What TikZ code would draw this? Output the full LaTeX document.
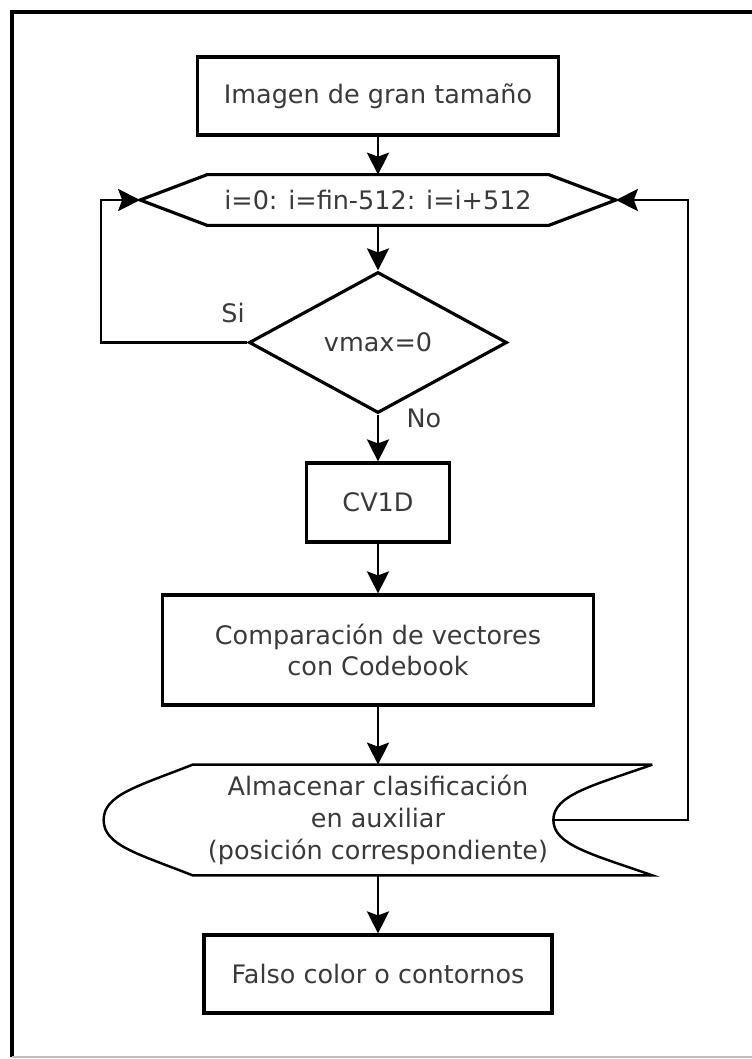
\documentclass[tikz,border=0pt]{standalone}
\usepackage{fontspec}
\setmainfont{DejaVu Sans}
\usetikzlibrary{arrows.meta,positioning,shapes.geometric,calc}
\definecolor{flowtext}{HTML}{3A3A3A}
\tikzset{box/.style={draw,line width=1.8pt,align=center,inner sep=0pt,text=flowtext,font=\fontsize{14.5}{18}\selectfont},
 ghost/.style={inner sep=0pt,align=center,text=flowtext,font=\fontsize{14.5}{18}\selectfont},
 flow/.style={-{Stealth[length=4.4mm,width=4.4mm,inset=0.8mm]},line width=1.6pt},
 tag/.style={text=flowtext,font=\fontsize{14.5}{18}\selectfont}}

\begin{document}
\begin{tikzpicture}
\useasboundingbox (0,0) rectangle (15.04,-21.18);
% frame
\draw[line width=2.6pt] (0.24,-21.14) -- (0.24,-0.24) -- (15.2,-0.24);
\draw[black!25,line width=1pt] (0.24,-21.14) -- (15.2,-21.14);
% nodes
\node[box,minimum width=7.22cm,minimum height=1.56cm] (img) at (7.56,-1.92) {Imagen de gran tama\~no};
\node[ghost,minimum width=9.5cm,minimum height=1cm] (loop) at (7.56,-4.0) {i=0: i=fin-512: i=i+512};
\draw[line width=1.8pt] (loop.west) -- ([xshift=1.34cm]loop.north west) -- ([xshift=-1.34cm]loop.north east)
 -- (loop.east) -- ([xshift=-1.34cm]loop.south east) -- ([xshift=1.34cm]loop.south west) -- cycle;
\node[box,diamond,minimum width=5.16cm,minimum height=2.82cm] (cond) at (7.56,-6.85) {vmax=0};
\node[box,minimum width=2.86cm,minimum height=1.58cm] (cv) at (7.56,-10.05) {CV1D};
\node[box,minimum width=8.62cm,minimum height=2.2cm] (comp) at (7.56,-13.0)
 {Comparaci\'on de vectores\\con Codebook};
\node[ghost,minimum width=10.96cm,minimum height=2.2cm] (store) at (7.56,-16.4)
 {Almacenar clasificaci\'on\\en auxiliar\\(posici\'on correspondiente)};
\draw[line width=1.4pt] (store.north east) -- ([xshift=1.78cm]store.north west)
 .. controls ($([xshift=1.78cm]store.north west)+(-1.12,-0.44)$) and ($(store.west)+(0,0.5)$) .. (store.west)
 .. controls ($(store.west)+(0,-0.5)$) and ($([xshift=1.78cm]store.south west)+(-1.12,0.44)$) .. ([xshift=1.78cm]store.south west)
 -- (store.south east)
 .. controls ($(store.south east)+(-1.2,0.42)$) and ($([xshift=-1.98cm]store.east)+(0,-0.5)$) .. ([xshift=-1.98cm]store.east)
 .. controls ($([xshift=-1.98cm]store.east)+(0,0.5)$) and ($(store.north east)+(-1.2,-0.42)$) .. (store.north east);
\node[box,minimum width=6.96cm,minimum height=1.56cm] (out) at (7.56,-19.48) {Falso color o contornos};
\coordinate (storein) at ([xshift=-1.98cm]store.east);
\coordinate (lback) at (2.02,-4.0);
\coordinate (rback) at (13.76,-4.0);
% connectors
\draw[flow] (img) -- (loop.north);
\draw[flow] (loop.south) -- (cond);
\draw[flow] (cond) -- (cv);
\draw[flow] (cv) -- (comp);
\draw[flow] (comp) -- (store.north);
\draw[flow] (store.south) -- (out);
\draw[flow] (cond.west) -| (lback) -- (loop.west);
\draw[flow] (storein) -| (rback) -- (loop.east);
\node[tag] (si) at (4.66,-6.26) {Si};
\node[tag] (no) at (8.48,-8.36) {No};
\end{tikzpicture}
\end{document}
